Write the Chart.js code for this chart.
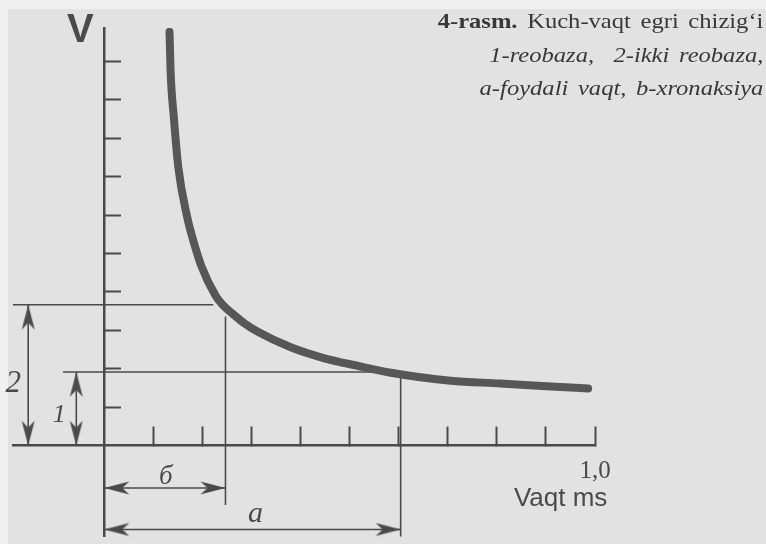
<!DOCTYPE html>
<html>
<head>
<meta charset="utf-8">
<title>Kuch-vaqt egri chizig'i</title>
<script src="https://cdn.jsdelivr.net/npm/chart.js@4.4.0/dist/chart.umd.min.js"></script>
<style>
  html, body { margin: 0; padding: 0; }
  body { width: 766px; height: 544px; background: #f0f0f0; position: relative; overflow: hidden; }
  #paper { position: absolute; left: 8px; top: 9px; right: 0; bottom: 0; background: #e2e2e2; }
  #wrap { position: absolute; left: 0; top: 0; width: 766px; height: 544px; }
  #caption {
    position: absolute; right: 3px; top: 5px;
    font-family: "Liberation Serif", "Times New Roman", serif; font-size: 21px;
    color: #383838; text-align: right; line-height: 33.5px; white-space: nowrap;
    transform: scaleX(1.17); transform-origin: right top; word-spacing: 3px;
  }
</style>
</head>
<body>
<div id="paper"></div>
<div id="wrap"><canvas id="sdChart" width="766" height="544"></canvas></div>
<div id="caption">
  <div><b>4-rasm.</b> Kuch-vaqt egri chizig‘i</div>
  <div><i>1-reobaza, &nbsp;2-ikki reobaza,</i></div>
  <div><i>a-foydali vaqt, b-xronaksiya</i></div>
</div>
<script>
// Kuch-vaqt (strength-duration) curve
// time in ms, strength in y-tick units
const curveTime     = [0.133, 0.135, 0.142, 0.151, 0.169, 0.182, 0.198, 0.227, 0.241, 0.261, 0.286, 0.312, 0.380, 0.447, 0.516, 0.584, 0.706, 0.808, 0.910, 0.986];
const curveStrength = [10.77, 9.79, 8.51, 7.23, 5.95, 5.31, 4.67, 3.90, 3.67, 3.44, 3.18, 2.97, 2.56, 2.28, 2.08, 1.90, 1.69, 1.62, 1.54, 1.49];

const rheobase = 1.92;        // 1 - reobaza
const doubleRheobase = 3.67;  // 2 - ikki reobaza
const chronaxie = 0.247;      // b - xronaksiya, ms
const usefulTime = 0.604;     // a - foydali vaqt, ms

const timeTickLabels = { '1': '1,0' };
const yAxisLabel = 'V';
const xAxisLabel = 'Vaqt ms';
const dimLabels = ['2', '1', 'б', 'a'];

const ink = '#4a4a4a';
const curveInk = '#575757';
const clear = 'rgba(0,0,0,0)';

// scale ranges (axes cross at 0,0; the rest is room for dimension arrows)
const xMin = -0.186, xMax = 1.0;
const yMin = -2.36, yMax = 10.87;

// where the dimension lines sit outside the axes
const arrow2X = -0.155, arrow1X = -0.057;
const arrowBY = -1.10, arrowAY = -2.18;

// barbed arrow head, tip at the canvas centre, pointing up
function makeArrowHead() {
  const c = document.createElement('canvas');
  c.width = 60; c.height = 60;
  const g = c.getContext('2d');
  g.fillStyle = ink;
  g.beginPath();
  g.moveTo(30, 30);
  g.lineTo(36.5, 55);
  g.lineTo(30, 48);
  g.lineTo(23.5, 55);
  g.closePath();
  g.fill();
  return c;
}
const head = makeArrowHead();

function refLine(points, width) {
  return {
    data: points, showLine: true, borderColor: ink, borderWidth: width || 1.6,
    pointRadius: 0, clip: false
  };
}

function dimArrow(points, rotations) {
  return {
    data: points, showLine: true, borderColor: ink, borderWidth: 1.6,
    pointStyle: head, pointRadius: 6, pointRotation: rotations, clip: false
  };
}

const curveData = curveTime.map((t, i) => ({ x: t, y: curveStrength[i] }));

const labelPlugin = {
  id: 'figureLabels',
  afterDraw(chart) {
    const { ctx } = chart;
    const x = chart.scales.x, y = chart.scales.y;
    const serifI = (s) => 'italic ' + s + 'px "Liberation Serif", serif';
    ctx.save();
    ctx.fillStyle = ink;
    ctx.textAlign = 'center';
    ctx.textBaseline = 'alphabetic';

    ctx.font = 'bold 40px "Liberation Sans", sans-serif';
    ctx.fillText(yAxisLabel, x.getPixelForValue(0) - 24, y.getPixelForValue(yMax) + 14);

    ctx.font = '26px "Liberation Sans", sans-serif';
    ctx.fillText(xAxisLabel, x.getPixelForValue(0.93), y.getPixelForValue(0) + 60);

    ctx.font = serifI(31);
    ctx.fillText(dimLabels[0], x.getPixelForValue(arrow2X) - 15, y.getPixelForValue(0) - 54);
    ctx.font = serifI(26);
    ctx.fillText(dimLabels[1], x.getPixelForValue(arrow1X) - 17, y.getPixelForValue(0) - 24);
    ctx.font = serifI(27);
    ctx.fillText(dimLabels[2], x.getPixelForValue(chronaxie / 2) + 1, y.getPixelForValue(arrowBY) - 4);
    ctx.font = serifI(30);
    ctx.fillText(dimLabels[3], x.getPixelForValue(usefulTime / 2) + 3, y.getPixelForValue(arrowAY) - 7);
    ctx.restore();
  }
};

new Chart(document.getElementById('sdChart'), {
  type: 'scatter',
  data: {
    datasets: [
      {
        data: curveData, showLine: true, borderColor: curveInk, borderWidth: 8,
        borderCapStyle: 'round', cubicInterpolationMode: 'monotone', pointRadius: 0
      },
      refLine([{ x: arrow1X - 0.027, y: rheobase }, { x: usefulTime, y: rheobase }]),
      refLine([{ x: xMin, y: doubleRheobase }, { x: 0.222, y: doubleRheobase }]),
      refLine([{ x: chronaxie, y: 3.36 }, { x: chronaxie, y: -1.54 }]),
      refLine([{ x: usefulTime, y: rheobase }, { x: usefulTime, y: yMin }]),
      dimArrow([{ x: arrow2X, y: doubleRheobase }, { x: arrow2X, y: 0 }], [0, 180]),
      dimArrow([{ x: arrow1X, y: rheobase }, { x: arrow1X, y: 0 }], [0, 180]),
      dimArrow([{ x: 0, y: arrowBY }, { x: chronaxie, y: arrowBY }], [270, 90]),
      dimArrow([{ x: 0, y: arrowAY }, { x: usefulTime, y: arrowAY }], [270, 90])
    ]
  },
  options: {
    responsive: false,
    animation: false,
    events: [],
    layout: { padding: { left: 13, right: 171, top: 28, bottom: 0 } },
    plugins: { legend: { display: false }, tooltip: { enabled: false } },
    scales: {
      x: {
        type: 'linear', min: xMin, max: xMax,
        position: { y: 0 },
        border: { color: ink, width: 2.5 },
        grid: {
          drawOnChartArea: false, drawTicks: true, tickLength: -20, tickWidth: 2,
          tickColor: c => (c.tick && c.tick.value > 0.001 ? ink : clear)
        },
        ticks: {
          stepSize: 0.1, autoSkip: false, includeBounds: false, maxRotation: 0,
          padding: 31, color: ink,
          font: { family: '"Liberation Serif", serif', size: 25 },
          callback: v => timeTickLabels[String(Math.round(v * 10) / 10)] || ''
        }
      },
      y: {
        type: 'linear', min: yMin, max: yMax,
        position: { x: 0 },
        border: { color: ink, width: 2.5 },
        grid: {
          drawOnChartArea: false, drawTicks: true, tickLength: -18, tickWidth: 2,
          tickColor: c => (c.tick && c.tick.value > 0.5 ? ink : clear)
        },
        ticks: { display: false, stepSize: 1, includeBounds: false }
      }
    }
  },
  plugins: [labelPlugin]
});
</script>
</body>
</html>
